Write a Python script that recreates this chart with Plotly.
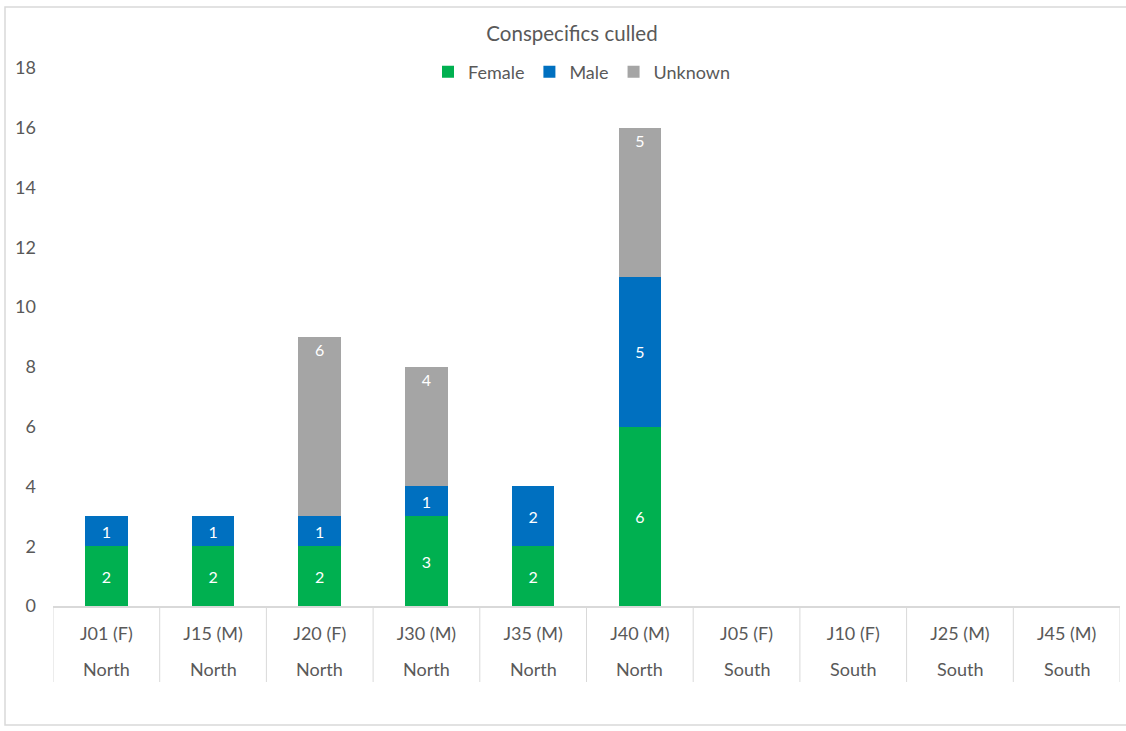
import plotly.graph_objects as go

# Culled conspecifics per animal, split by sex of the culled individuals
animals = ["J01 (F)", "J15 (M)", "J20 (F)", "J30 (M)", "J35 (M)", "J40 (M)",
           "J05 (F)", "J10 (F)", "J25 (M)", "J45 (M)"]
regions = ["North", "North", "North", "North", "North", "North",
           "South", "South", "South", "South"]
female = [2, 2, 2, 3, 2, 6, 0, 0, 0, 0]
male = [1, 1, 1, 1, 2, 5, 0, 0, 0, 0]
unknown = [0, 0, 6, 4, 0, 5, 0, 0, 0, 0]
y_ticks = [0, 2, 4, 6, 8, 10, 12, 14, 16, 18]

W, H = 1126, 731
ML, MR, MT, MB = 53, 6, 68, 125
PW, PH = W - ML - MR, H - MT - MB

FONT = "Lato"
TXT = "#595959"
LINE = "#D9D9D9"


def px_x(px):
    return (px - ML) / PW


def px_y(py):
    return (H - MB - py) / PH


def labels(vals):
    return [str(v) if v else "" for v in vals]


fig = go.Figure()
series = [
    ("Female", female, "#00B050", "middle"),
    ("Male", male, "#0070C0", "middle"),
    ("Unknown", unknown, "#A5A5A5", "end"),
]
for name, vals, color, anchor in series:
    fig.add_trace(go.Bar(
        name=name, x=animals, y=vals, marker=dict(color=color, line=dict(width=0)),
        text=labels(vals), textposition="inside", insidetextanchor=anchor,
        textfont=dict(family=FONT, size=16, color="white"),
        hoverinfo="skip",
    ))

shapes = []
# category dividers below the axis line
for i in range(len(animals) + 1):
    shapes.append(dict(type="line", xref="x", yref="paper",
                       x0=i - 0.5, x1=i - 0.5, y0=0, y1=px_y(682),
                       line=dict(color=LINE, width=1)))
# chart area border
shapes.append(dict(type="rect", xref="paper", yref="paper",
                   x0=px_x(5), x1=px_x(1140), y0=px_y(725), y1=px_y(7),
                   line=dict(color=LINE, width=1.5), fillcolor="rgba(0,0,0,0)",
                   layer="below"))

annotations = []
for i, reg in enumerate(regions):
    annotations.append(dict(x=animals[i], y=px_y(669), xref="x", yref="paper",
                            text=reg, showarrow=False, yanchor="middle",
                            font=dict(family=FONT, size=18, color=TXT)))

fig.update_layout(
    width=W, height=H,
    margin=dict(l=ML, r=MR, t=MT, b=MB, pad=0),
    barmode="stack", bargap=0.6,
    paper_bgcolor="white", plot_bgcolor="white",
    font=dict(family=FONT, size=18, color=TXT),
    title=dict(text="Conspecifics culled", x=572 / W, xanchor="center",
               y=1 - 34 / H, yanchor="middle",
               font=dict(family=FONT, size=20.5, color=TXT)),
    legend=dict(orientation="h", x=px_x(582), xanchor="center",
                y=px_y(72), yanchor="middle",
                font=dict(family=FONT, size=18, color=TXT),
                itemwidth=30, traceorder="normal", bgcolor="rgba(0,0,0,0)"),
    shapes=shapes,
    annotations=annotations,
    showlegend=True,
)
fig.update_xaxes(
    type="category", tickvals=animals, ticktext=animals,
    showline=True, linecolor=LINE, linewidth=1.5,
    showgrid=False, zeroline=False, ticks="",
    ticklabelstandoff=11,
    tickfont=dict(family=FONT, size=18, color=TXT),
    range=[-0.5, len(animals) - 0.5],
)
fig.update_yaxes(
    range=[0, 18], tickvals=y_ticks, showgrid=False, zeroline=False,
    showline=False, ticks="", ticklabelstandoff=16,
    tickfont=dict(family=FONT, size=18, color=TXT),
)

fig.write_html("out.html")
